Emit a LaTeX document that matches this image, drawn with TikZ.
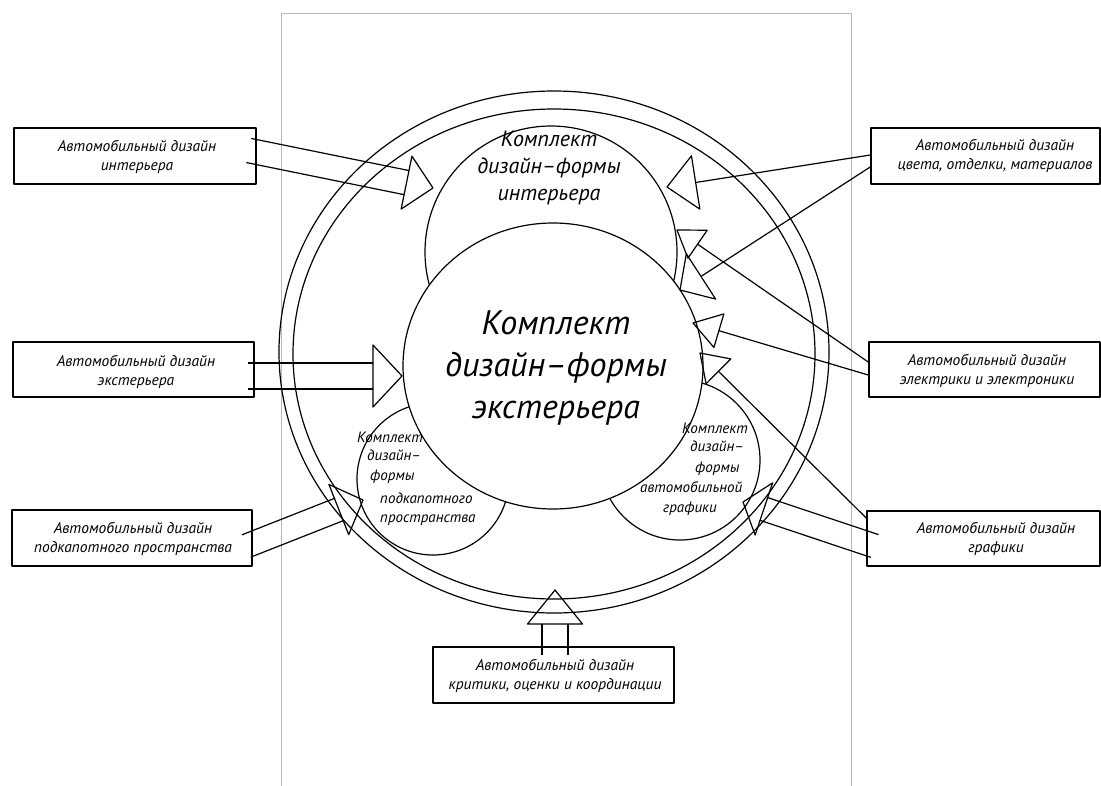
\documentclass[tikz,border=0pt]{standalone}
\usepackage{fontspec}
\setmainfont{PT Sans}
\usetikzlibrary{calc}
\newcommand\fatarr[5]{%
  \coordinate (fa-b) at ($(#2)!#5!(#1)$);
  \draw[ln] ($(#1)!#3!90:(#2)$) -- ($(fa-b)!#3!90:(#2)$);
  \draw[ln] ($(#1)!#3!-90:(#2)$) -- ($(fa-b)!#3!-90:(#2)$);
  \draw[ln] ($(fa-b)!#4!90:(#2)$) -- (#2) -- ($(fa-b)!#4!-90:(#2)$) -- cycle;
}
\newcommand\linarr[4]{%
  \coordinate (la-b) at ($(#2)!#4!(#1)$);
  \draw[ln] (#1) -- (la-b);
  \draw[ln] ($(la-b)!#3!90:(#2)$) -- (#2) -- ($(la-b)!#3!-90:(#2)$) -- cycle;
}
\begin{document}
\begin{tikzpicture}[x=1pt,y=-1pt,line join=round,
  ln/.style={line width=1.2pt},
  box/.style={draw,line width=1.6pt,inner sep=0pt},
  lbl/.style={font=\fontsize{15.5}{19.5}\selectfont\itshape,align=center,inner sep=0pt},
  sm/.style={font=\fontsize{15}{18}\selectfont\itshape,anchor=base west,inner sep=0pt}]
\useasboundingbox (0,0) rectangle (1101,785);
\fill[white] (0,0) rectangle (1101,785);
\draw[gray!55,line width=1pt] (281,13) rectangle (851,800);
% rings
\draw[ln] (554,352) ellipse [x radius=275pt, y radius=261pt];
\draw[ln] (554,354) ellipse [x radius=261pt, y radius=245pt];
% kits
\draw[ln,fill=white] (551,252) circle [radius=126pt];
\draw[ln,fill=white] (433,479) circle [radius=76pt];
\draw[ln,fill=white] (680,460) circle [radius=80pt];
\draw[ln,fill=white] (553,366) ellipse [x radius=150pt, y radius=143pt];
% boxes
\node[box,minimum width=242pt,minimum height=56pt] (b1) at (135,156) {};
\node[box,minimum width=241pt,minimum height=55pt] (b2) at (133.5,369.5) {};
\node[box,minimum width=240pt,minimum height=56pt] (b3) at (132,538) {};
\node[box,minimum width=229pt,minimum height=56pt] (b4) at (985.5,156) {};
\node[box,minimum width=231pt,minimum height=55pt] (b5) at (984.5,369.5) {};
\node[box,minimum width=233pt,minimum height=55pt] (b6) at (983.5,538.5) {};
\node[box,minimum width=241pt,minimum height=56pt] (b7) at (553.5,675) {};
\node[lbl] (l1) at (137,157) {Автомобильный дизайн\\интерьера};
\node[lbl] (l2) at (136,372) {Автомобильный дизайн\\экстерьера};
\node[lbl] (l3) at (133,539) {Автомобильный дизайн\\подкапотного пространства};
\node[lbl] (l4) at (995,156) {Автомобильный дизайн\\цвета, отделки, материалов};
\node[lbl] (l5) at (987,371) {Автомобильный дизайн\\электрики и электроники};
\node[lbl] (l6) at (996,539) {Автомобильный дизайн\\графики};
\node[lbl] (l7) at (555,676) {Автомобильный дизайн\\критики, оценки и координации};
% arrow coordinates
\coordinate (s1) at ($(b1.east)+(-8,-5.5)$);  \coordinate (t1) at (433,188);
\coordinate (s2) at ($(b2.east)+(-7,6.5)$);   \coordinate (t2) at (402,376);
\coordinate (s3) at ($(b3.east)+(-6.5,8)$);   \coordinate (t3) at (363,500);
\coordinate (s6) at ($(b6.west)+(8.5,7.5)$);  \coordinate (t6) at (743,502);
\coordinate (s7) at ($(b7.north)+(1.5,9)$);   \coordinate (t7) at (555,590);
\coordinate (c1) at ($(b4.west)+(0,-1)$);     \coordinate (u1) at (667,187);
\coordinate (c2) at ($(b4.west)+(0,11)$);     \coordinate (u2) at (680,290);
\coordinate (e1) at ($(b5.west)+(0,-7.5)$);   \coordinate (v1) at (677,230);
\coordinate (e2) at ($(b5.west)+(0,5.5)$);    \coordinate (v2) at (693,323);
\coordinate (g1) at ($(b6.west)+(0,-20.5)$);  \coordinate (w1) at (700,353);
\fatarr{s1}{t1}{12.3pt}{27pt}{27pt}
\fatarr{s2}{t2}{13pt}{31pt}{29pt}
\fatarr{s3}{t3}{12pt}{27pt}{26pt}
\fatarr{s6}{t6}{12pt}{27.5pt}{22pt}
\fatarr{s7}{t7}{13pt}{27.5pt}{34pt}
\linarr{c1}{u1}{27pt}{29pt}
\linarr{c2}{u2}{27pt}{25pt}
\linarr{e1}{v1}{17pt}{25pt}
\linarr{e2}{v2}{17.5pt}{27pt}
\linarr{g1}{w1}{17.5pt}{26pt}
% texts in kits
\node[font=\fontsize{34}{42}\selectfont\itshape,align=center,inner sep=0pt] (mt) at (556,368) {Комплект\\дизайн–формы\\экстерьера};
\node[font=\fontsize{22}{27}\selectfont\itshape,align=center,inner sep=0pt] (it) at (549,168) {Комплект\\дизайн–формы\\интерьера};
\node[sm] (sl1) at (357,442) {Комплект};
\node[sm] (sl2) at (367,460) {дизайн–};
\node[sm] (sl3) at (370,480) {формы};
\node[sm] (sl4) at (380,503) {подкапотного};
\node[sm] (sl5) at (380,522) {пространства};
\node[sm] (sr1) at (682,433) {Комплект};
\node[sm] (sr2) at (690,451) {дизайн–};
\node[sm] (sr3) at (695,472) {формы};
\node[sm] (sr4) at (640,492) {автомобильной};
\node[sm] (sr5) at (663,512) {графики};
\end{tikzpicture}
\end{document}
